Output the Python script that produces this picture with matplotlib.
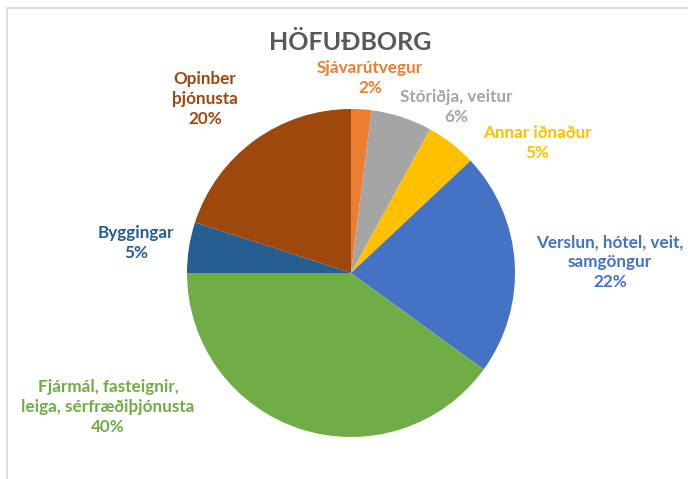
import matplotlib.pyplot as plt
import matplotlib.patches as mpatches

plt.rcParams['font.family'] = ['Lato', 'DejaVu Sans']

title = "HÖFUÐBORG"
labels = ["Sjávarútvegur", "Stóriðja, veitur", "Annar iðnaður",
          "Verslun, hótel, veit,\nsamgöngur",
          "Fjármál, fasteignir,\nleiga, sérfræðiþjónusta",
          "Byggingar", "Opinber\nþjónusta"]
values = [2, 6, 5, 22, 40, 5, 20]
colors = ["#ED7D31", "#A5A5A5", "#FFC000", "#4472C4",
          "#70AD47", "#255E91", "#9E480E"]

# label centre positions in pixels (x, y from top)
label_pos = [(370, 78), (456, 107), (537, 143), (610, 262),
             (108, 407), (136, 243), (205, 99)]

W, H = 688, 479
fig = plt.figure(figsize=(W / 100, H / 100), dpi=100)
ax = fig.add_axes([0, 0, 1, 1])
ax.set_xlim(0, W)
ax.set_ylim(0, H)
ax.set_aspect('equal')
ax.axis('off')

# chart frame
ax.add_patch(mpatches.Rectangle((7, -5), W, H - 8 + 5, fill=False,
                                edgecolor="#D9D9D9", lw=1.2))

ax.pie(values, colors=colors, startangle=90, counterclock=False,
       center=(351, H - 273), radius=164,
       wedgeprops=dict(linewidth=0))
ax.set_xlim(0, W)
ax.set_ylim(0, H)

ax.text(350, H - 42, title, ha='center', va='center', fontsize=18,
        fontweight='bold', color="#595959")

for lab, v, c, (x, y) in zip(labels, values, colors, label_pos):
    ax.text(x, H - y, f"{lab}\n{v}%", ha='center', va='center',
            fontsize=12.3, fontweight='bold', color=c, linespacing=1.3)

fig.savefig("out.png", dpi=100)
